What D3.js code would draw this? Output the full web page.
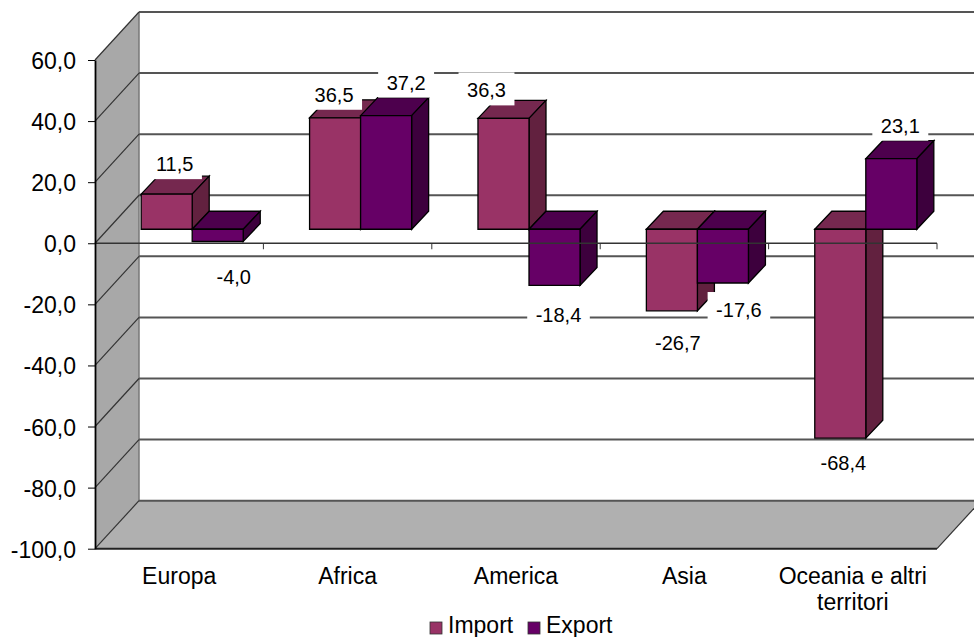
<!DOCTYPE html>
<html>
<head>
<meta charset="utf-8">
<script src="https://cdn.jsdelivr.net/npm/d3@7"></script>
<style>
  html, body { margin: 0; padding: 0; background: #fff; }
  svg { display: block; }
  text { font-family: "Liberation Sans", Arial, sans-serif; fill: #000; }
</style>
</head>
<body>
<div id="chart"></div>
<script>
var categories = ["Europa", "Africa", "America", "Asia", "Oceania e altri territori"];
var importValues = [11.5, 36.5, 36.3, -26.7, -68.4];
var exportValues = [-4.0, 37.2, -18.4, -17.6, 23.1];
var seriesNames = ["Import", "Export"];
var yTicks = [60, 40, 20, 0, -20, -40, -60, -80, -100];

var width = 974, height = 637;

// depth of the box and of the bars inside it
var depth = { x: 44, y: 48 };
var barInset = { x: 13, y: 14 };
var barDepth = { x: 17, y: 18 };

var colors = {
    Import: { front: "#993366", top: "#75284f", side: "#62213f" },
    Export: { front: "#660066", top: "#4d004d", side: "#3d003d" }
};

// manual data label placement: dx from bar centre, dy from the bar end
var labelNudge = {
    Import: [[8, -23], [-1, -16], [-17, -21], [6, 39], [3, 32]],
    Export: [[16, 43], [20, -26], [4, 37], [16, 34], [9, -26]]
};

var svg = d3.select("#chart").append("svg")
    .attr("width", width)
    .attr("height", height);

var y = d3.scaleLinear().domain([-100, 60]).range([548.7, 60]);
var x0 = d3.scaleBand().domain(categories).range([95, 937]).paddingInner(0.394).paddingOuter(0.197);
var x1 = d3.scaleBand().domain(seriesNames).range([0, x0.bandwidth()]);
var itFormat = d3.formatLocale({ decimal: ",", thousands: ".", grouping: [3], currency: ["", ""], minus: "-" }).format(".1f");

var left = x0.range()[0], right = x0.range()[1];

var poly = function (g, pts, fill, stroke, sw) {
    return g.append("polygon")
        .attr("points", pts.map(p => p.join(",")).join(" "))
        .attr("fill", fill)
        .attr("stroke", stroke || "none")
        .attr("stroke-width", sw || 0);
};

// walls and floor
var box = svg.append("g");
poly(box, [[left, y(60)], [left + depth.x, y(60) - depth.y], [left + depth.x, y(-100) - depth.y], [left, y(-100)]], "#a8a8a8");
poly(box, [[left, y(-100)], [left + depth.x, y(-100) - depth.y], [width, y(-100) - depth.y], [width, y(-100) - (width - right) * depth.y / depth.x], [right, y(-100)]], "#b0b0b0");

box.append("line")
    .attr("x1", left + depth.x).attr("x2", left + depth.x)
    .attr("y1", y(60) - depth.y).attr("y2", y(-100) - depth.y)
    .attr("stroke", "#777").attr("stroke-width", 1.5);

// gridlines on the back wall, diagonals on the side wall
box.selectAll(".grid")
    .data(yTicks)
    .enter()
    .append("line")
    .attr("class", "grid")
    .attr("x1", left + depth.x)
    .attr("x2", width)
    .attr("y1", d => y(d) - depth.y)
    .attr("y2", d => y(d) - depth.y)
    .attr("stroke", "#555")
    .attr("stroke-width", 2);

box.selectAll(".diag")
    .data(yTicks)
    .enter()
    .append("line")
    .attr("class", "diag")
    .attr("x1", left)
    .attr("x2", left + depth.x)
    .attr("y1", d => y(d))
    .attr("y2", d => y(d) - depth.y)
    .attr("stroke", "#333")
    .attr("stroke-width", 1.2);

box.append("line")
    .attr("x1", left).attr("x2", right)
    .attr("y1", y(-100)).attr("y2", y(-100))
    .attr("stroke", "#222").attr("stroke-width", 2);
box.append("line")
    .attr("x1", right).attr("x2", width)
    .attr("y1", y(-100)).attr("y2", y(-100) - (width - right) * depth.y / depth.x)
    .attr("stroke", "#333").attr("stroke-width", 1.2);

// bars, import first so that export overlaps it
var series = { Import: importValues, Export: exportValues };
var bars = svg.append("g");
var labels = [];

categories.forEach(function (cat, i) {
    seriesNames.forEach(function (name) {
        var v = series[name][i];
        var c = colors[name];
        var xa = x0(cat) + x1(name) + barInset.x;
        var xb = xa + x1.bandwidth();
        var yt = Math.min(y(v), y(0)) - barInset.y;
        var yb = Math.max(y(v), y(0)) - barInset.y;
        var g = bars.append("g");
        poly(g, [[xa, yt], [xa + barDepth.x, yt - barDepth.y], [xb + barDepth.x, yt - barDepth.y], [xb, yt]], c.top, "#000", 1.3);
        poly(g, [[xb, yt], [xb + barDepth.x, yt - barDepth.y], [xb + barDepth.x, yb - barDepth.y], [xb, yb]], c.side, "#000", 1.3);
        poly(g, [[xa, yt], [xb, yt], [xb, yb], [xa, yb]], c.front, "#000", 1.3);
        var nudge = labelNudge[name][i];
        labels.push({
            text: itFormat(v),
            x: (xa + xb) / 2 + nudge[0],
            y: y(v) - barInset.y + nudge[1]
        });
    });
});

// horizontal axis runs over the bars
var xAxis = svg.append("g");
xAxis.append("line")
    .attr("x1", left).attr("x2", right)
    .attr("y1", y(0)).attr("y2", y(0))
    .attr("stroke", "#333").attr("stroke-width", 1.4);
xAxis.selectAll(".xtick")
    .data(d3.range(1, categories.length + 1))
    .enter()
    .append("line")
    .attr("class", "xtick")
    .attr("x1", d => left + d * x0.step())
    .attr("x2", d => left + d * x0.step())
    .attr("y1", y(0))
    .attr("y2", y(0) + 6)
    .attr("stroke", "#333");

// vertical axis
var yAxis = svg.append("g")
    .attr("transform", "translate(" + left + ",0)")
    .call(d3.axisLeft(y).tickValues(yTicks).tickFormat(itFormat).tickSize(7).tickPadding(12).tickSizeOuter(0));
yAxis.select(".domain").attr("stroke", "#000").attr("stroke-width", 1.8);
yAxis.selectAll(".tick line").attr("stroke", "#000");
yAxis.selectAll("text")
    .attr("dy", "8.5px")
    .style("font-size", "23px")
    .style("font-family", '"Liberation Sans", Arial, sans-serif');

// data labels with white boxes
var lab = svg.append("g");
labels.forEach(function (d) {
    var t = lab.append("text")
        .attr("x", d.x).attr("y", d.y)
        .attr("text-anchor", "middle")
        .style("font-size", "20px")
        .text(d.text);
    var w = t.node().getComputedTextLength() + 17;
    lab.insert("rect", "text")
        .attr("x", d.x - w / 2).attr("y", d.y - 25)
        .attr("width", w).attr("height", 33)
        .attr("fill", "#fff");
});

// category labels
categories.forEach(function (cat) {
    var lines = cat.length > 15 ? ["Oceania e altri", "territori"] : [cat];
    lines.forEach(function (line, k) {
        svg.append("text")
            .attr("x", x0(cat) + x0.bandwidth() / 2)
            .attr("y", 584 + k * 26)
            .attr("text-anchor", "middle")
            .style("font-size", "23px")
            .text(line);
    });
});

// legend
var legendX = { Import: 430, Export: 528 };
seriesNames.forEach(function (name) {
    svg.append("rect")
        .attr("x", legendX[name]).attr("y", 622)
        .attr("width", 12).attr("height", 12)
        .attr("fill", colors[name].front)
        .attr("stroke", "#333").attr("stroke-width", 0.8);
    svg.append("text")
        .attr("x", legendX[name] + 18).attr("y", 633)
        .style("font-size", "23px")
        .text(name);
});
</script>
</body>
</html>
